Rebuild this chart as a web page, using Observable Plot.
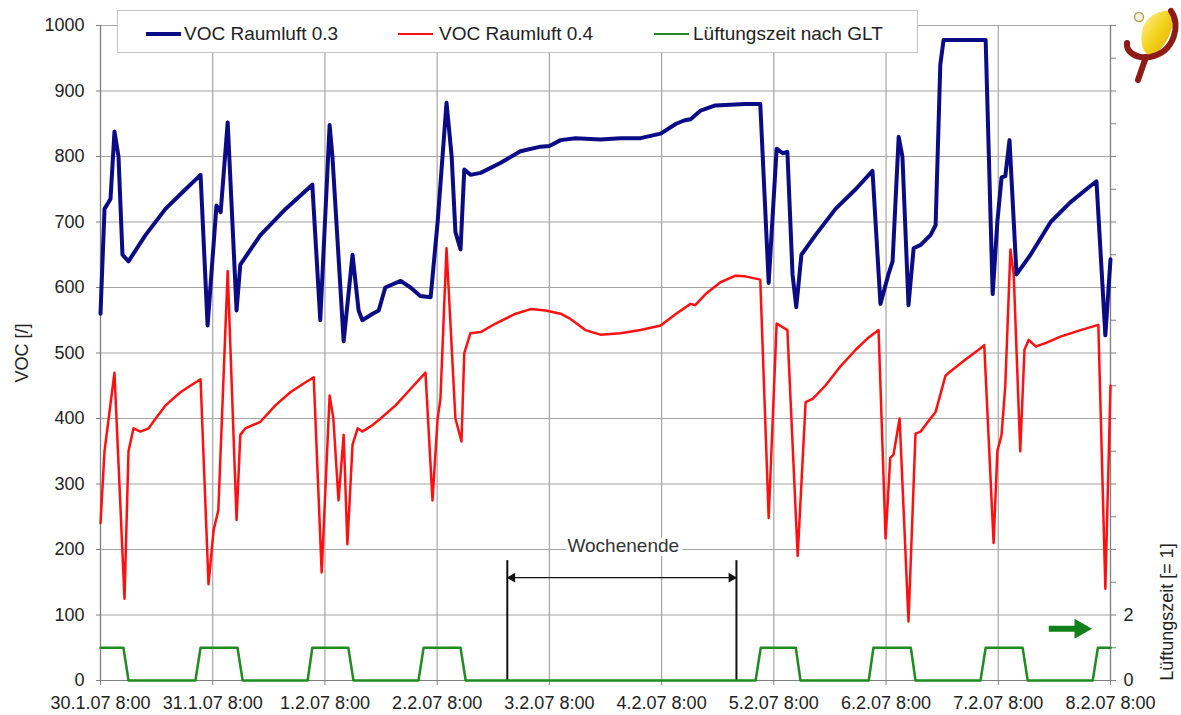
<!DOCTYPE html>
<html>
<head>
<meta charset="utf-8">
<script src="https://cdn.jsdelivr.net/npm/d3@7"></script>
<script src="https://cdn.jsdelivr.net/npm/@observablehq/plot@0.6"></script>
<style>
html, body { margin: 0; padding: 0; background: #fff; }
#wrap { position: relative; width: 1181px; height: 715px; font-family: "Liberation Sans", Arial, sans-serif; color: #222; overflow: hidden; }
#legend { position: absolute; left: 117px; top: 10px; width: 801px; height: 43px; border: 1px solid #c4c4c4; background: #fff; box-sizing: border-box; }
#legend .sw { position: absolute; }
#legend .lt { position: absolute; top: 12px; font-size: 19px; line-height: 22px; white-space: nowrap; color: #222; }
.atitle { position: absolute; font-size: 18px; line-height: 20px; white-space: nowrap; color: #222; transform: translate(-50%, -50%) rotate(-90deg); }
#logo { position: absolute; left: 1118px; top: 0px; }
</style>
</head>
<body>
<div id="wrap"></div>
<script>
// ---- Data ----
// hours since 30.1.07 8:00
const blueHours = [0,0.86,2.14,2.99,3.85,4.7,5.99,9.62,13.9,18.2,21.4,22.9,24.8,25.7,27.2,29.1,29.9,34.2,39.6,45.3,47.0,49.0,49.6,52.0,53.9,55.2,56.0,58.2,59.5,60.9,64.2,66.3,68.4,70.6,72.1,74.0,75.1,75.9,77.0,77.8,79.1,81.3,85.5,89.8,94.1,96.0,98.4,101.6,106.9,111.2,115.5,119.8,123.1,124.8,126.2,128.3,131.5,137.9,141.1,142.9,144.6,145.9,146.9,148.0,148.8,149.9,152.9,157.2,161.5,165.1,166.8,168.5,169.4,170.7,171.5,172.8,173.9,175.4,177.5,178.6,179.6,180.3,189.3,190.8,191.8,192.7,193.5,194.4,195.9,198.9,203.2,207.4,211.7,213.0,214.9,216];
const blueVoc   = [560,720,735,838,800,650,640,680,720,750,772,542,725,715,852,565,635,680,720,757,550,848,800,518,650,565,550,560,565,600,610,600,587,585,700,882,800,685,658,780,772,775,790,808,815,816,825,828,826,828,828,835,850,855,857,870,878,880,880,607,812,805,807,620,570,650,680,720,750,778,575,620,640,830,800,573,660,665,680,695,940,978,978,590,700,768,770,825,620,650,700,730,755,762,527,643];

const redHours = [0,0.86,2.99,5.13,5.99,7.06,8.55,10.3,11.8,13.9,17.1,19.2,21.4,23.1,24.2,25.2,27.2,29.1,29.9,31.0,34.2,37.4,40.6,43.8,45.6,47.3,49.0,49.8,50.9,52.0,52.8,53.9,55.0,56.0,58.2,59.9,63.1,66.3,69.5,71.0,72.1,72.7,74.0,75.9,77.2,77.8,79.1,81.3,84.5,88.8,92.0,95.2,98.4,100.5,103.7,106.9,111.2,115.5,119.8,123.1,126.2,127.2,129.4,132.6,135.8,137.9,141.1,142.9,144.6,146.9,149.1,150.8,152.3,155.0,158.3,161.5,164.0,166.4,167.9,168.9,169.6,170.9,172.8,174.3,175.4,177.5,178.6,180.7,181.4,185.0,187.8,189.0,191.0,191.8,192.7,193.5,194.6,195.3,196.7,197.6,198.5,200.0,202.1,205.3,209.6,213.4,214.9,216];
const redVoc   = [240,350,470,125,350,385,380,385,400,420,440,450,460,147,230,260,625,245,375,385,395,420,440,455,463,165,435,400,275,375,208,360,385,380,390,400,420,445,470,275,400,430,660,400,365,500,530,532,545,560,567,565,560,552,535,528,530,535,542,560,575,573,590,608,618,617,612,248,545,535,190,425,430,450,480,505,522,535,217,340,345,400,90,377,380,400,410,465,470,490,505,512,210,350,375,450,658,620,350,505,520,510,515,525,535,543,140,450];

const greenHours = [0,4.9,6.0,20.3,21.4,29.3,30.4,44.3,45.3,53.0,54.1,68.0,69.1,77.0,78.1,140.1,141.2,148.7,149.7,164.3,165.3,173.3,174.3,188.2,189.3,197.2,198.3,212.2,213.3,216];
const greenState = [1,1,0,0,1,1,0,0,1,1,0,0,1,1,0,0,1,1,0,0,1,1,0,0,1,1,0,0,1,1];

const xTickHours  = [0,24,48,72,96,120,144,168,192,216];
const xTickLabels = ["30.1.07 8:00","31.1.07 8:00","1.2.07 8:00","2.2.07 8:00","3.2.07 8:00","4.2.07 8:00","5.2.07 8:00","6.2.07 8:00","7.2.07 8:00","8.2.07 8:00"];
const yTicks = [0,100,200,300,400,500,600,700,800,900,1000];
const rightTicks = [0,1,2,3,4,5,6,7,8,9,10,11,12,13,14,15,16,17,18,19,20];
const rightLabeled = [0,2];
const rightFactor = 50; // 1 unit on right axis = 50 units on left axis

const seriesNames  = ["VOC Raumluft 0.3","VOC Raumluft 0.4","Lüftungszeit nach GLT"];
const seriesColors = ["#0b0b86","#ff1010","#1e8c1e"];
const seriesWidths = [4,2.5,2.5];

const weekendHours = [87,136];
const weekendLabel = "Wochenende";
const weekendArrowY = 157;
const weekendRuleTop = 183;
const weekendLabelY = 205;
const greenArrow = {from: 202.8, to: 208.5, tip: 210.4, y: 79};

const yLabel = "VOC [/]";
const y2Label = "Lüftungszeit [= 1]";

// ---- Tables ----
const blue = blueHours.map((h, i) => ({h, v: blueVoc[i]}));
const red = redHours.map((h, i) => ({h, v: redVoc[i]}));
const green = greenHours.map((h, i) => ({h, v: greenState[i] * rightFactor}));

const grid = "#a6a6a6";
const axisCol = "#808080";

const chart = Plot.plot({
  width: 1181,
  height: 715,
  marginLeft: 100,
  marginRight: 71,
  marginTop: 25,
  marginBottom: 35,
  style: {fontFamily: "Liberation Sans, Arial, sans-serif", fontSize: "18px", color: "#222", background: "#fff"},
  x: {type: "linear", domain: [0, 216]},
  y: {domain: [0, 1000]},
  marks: [
    Plot.gridX(xTickHours, {stroke: grid, strokeOpacity: 1, strokeWidth: 1.2}),
    Plot.gridY(yTicks, {stroke: grid, strokeOpacity: 1, strokeWidth: 1.2}),
    Plot.ruleX([0, 216], {stroke: axisCol, strokeWidth: 1.2}),
    Plot.ruleY([0], {stroke: axisCol, strokeWidth: 1.2}),
    Plot.axisX(xTickHours, {tickFormat: d => xTickLabels[xTickHours.indexOf(d)], tickSize: 5, tickPadding: 11, label: null, stroke: axisCol}),
    Plot.axisY(yTicks, {anchor: "left", tickSize: 4, tickPadding: 12, label: null, stroke: axisCol, tickFormat: d => String(d)}),
    Plot.axisY(rightTicks.map(d => d * rightFactor), {anchor: "right", tickSize: 5, tickPadding: 8, label: null, stroke: axisCol,
      tickFormat: v => rightLabeled.includes(v / rightFactor) ? String(v / rightFactor) : ""}),
    // weekend annotation
    Plot.ruleX(weekendHours, {y1: 0, y2: weekendRuleTop, stroke: "#111", strokeWidth: 2}),
    Plot.link([weekendHours], {x1: d => d[0], x2: d => d[1], y1: weekendArrowY, y2: weekendArrowY, stroke: "#111", strokeWidth: 1.3}),
    Plot.dot([weekendHours[0]], {x: d => d, y: weekendArrowY, symbol: "triangle", r: 3.6, rotate: -90, fill: "#111", dx: 5}),
    Plot.dot([weekendHours[1]], {x: d => d, y: weekendArrowY, symbol: "triangle", r: 3.6, rotate: 90, fill: "#111", dx: -5}),
    Plot.text([weekendLabel], {x: (weekendHours[0] + weekendHours[1]) / 2 + 0.3, y: weekendLabelY, text: d => d, fontSize: 19, fill: "#333", stroke: "white", strokeWidth: 8}),
    // series
    Plot.line(green, {x: "h", y: "v", stroke: seriesColors[2], strokeWidth: seriesWidths[2], curve: "linear"}),
    Plot.line(red, {x: "h", y: "v", stroke: seriesColors[1], strokeWidth: seriesWidths[1], curve: "linear", strokeLinejoin: "round"}),
    Plot.line(blue, {x: "h", y: "v", stroke: seriesColors[0], strokeWidth: seriesWidths[0], curve: "linear", strokeLinejoin: "round"}),
    // green arrow pointing to secondary axis
    Plot.link([greenArrow], {x1: "from", x2: "to", y1: "y", y2: "y", stroke: "#13801a", strokeWidth: 6}),
    Plot.dot([greenArrow], {x: "tip", y: "y", symbol: "triangle", r: 7.5, rotate: 90, fill: "#13801a", dx: -4})
  ]
});

const wrap = document.getElementById("wrap");
wrap.appendChild(chart);

// axis titles
function addTitle(text, left, top) {
  const d = document.createElement("div");
  d.className = "atitle";
  d.style.left = left + "px";
  d.style.top = top + "px";
  d.textContent = text;
  wrap.appendChild(d);
}
addTitle(yLabel, 22, 353);
addTitle(y2Label, 1167, 612);

// legend overlay (inside the plot, as in the reference)
const legend = document.createElement("div");
legend.id = "legend";
const swLeft = [28, 280, 536];
const txLeft = [66, 321, 575];
seriesNames.forEach((name, i) => {
  const sw = document.createElement("div");
  sw.className = "sw";
  sw.style.left = swLeft[i] + "px";
  sw.style.width = "35px";
  sw.style.height = seriesWidths[i] + "px";
  sw.style.top = (23 - seriesWidths[i] / 2) + "px";
  sw.style.background = seriesColors[i];
  legend.appendChild(sw);
  const t = document.createElement("div");
  t.className = "lt";
  t.style.left = txLeft[i] + "px";
  t.textContent = name;
  legend.appendChild(t);
});
wrap.appendChild(legend);

// logo
const logo = document.createElementNS("http://www.w3.org/2000/svg", "svg");
logo.setAttribute("id", "logo");
logo.setAttribute("width", "63");
logo.setAttribute("height", "86");
logo.innerHTML = `
<defs><linearGradient id="lg" x1="0" y1="0" x2="1" y2="1">
<stop offset="0" stop-color="#fff3a0"/><stop offset="0.5" stop-color="#f2d21a"/><stop offset="1" stop-color="#e0a800"/></linearGradient></defs>
<path d="M24,32 C26,18 40,9 53,11 C58,26 50,46 33,57 C24,52 22,42 24,32 Z" fill="url(#lg)"/>
<path d="M53,11 C63,24 57,52 32,57 C18,59 8,52 9,43" fill="none" stroke="#8e1b16" stroke-width="6" stroke-linecap="round"/>
<path d="M28,57 L20,80" fill="none" stroke="#8e1b16" stroke-width="6" stroke-linecap="round"/>
<circle cx="21" cy="17" r="4.5" fill="#f8f4dc" stroke="#b3a35a" stroke-width="1.5"/>`;
wrap.appendChild(logo);
</script>
</body>
</html>
